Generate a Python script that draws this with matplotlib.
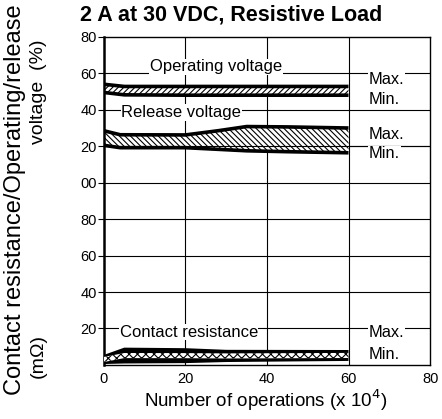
import numpy as np
import matplotlib
matplotlib.use("Agg")
from matplotlib import pyplot as plt

plt.rcParams['font.family'] = ['Liberation Sans', 'DejaVu Sans']
plt.rcParams['hatch.linewidth'] = 0.8

# operations (x 10^4)
op_x = [0, 5, 20, 40, 60]
op_max = [54, 52.8, 52.8, 52.8, 52.8]      # operating voltage (%)
op_min = [49.5, 48.2, 48, 48, 48]

rel_x = [0, 4, 20, 28, 35, 45, 60]
rel_max = [28.5, 26.3, 26.2, 28.5, 30.8, 30.6, 30]   # release voltage (%)
rel_min = [20.5, 19.2, 19.2, 18.3, 17.5, 17, 16.4]

cr_x = [0, 5, 20, 30, 60]
cr_max = [5.5, 9.5, 9.2, 8.3, 8.2]         # contact resistance (mOhm)
cr_min = [0.5, 0.8, 1.0, 1.6, 2.2]

x_ticks = [0, 20, 40, 60, 80]
y_ticks = [20, 40, 60, 80, 100, 120, 140, 160, 180]
y_labels = ['20', '40', '60', '80', '00', '20', '40', '60', '80']

V0 = 100   # voltage section sits above resistance section

fig = plt.figure(figsize=(4.42, 4.19), dpi=100)
ax = fig.add_axes([0.235, 0.129, 0.738, 0.783])
ax.set_xlim(0, 80)
ax.set_ylim(0, 180)

for gx in [20, 40, 60]:
    ax.axvline(gx, color='black', lw=0.8, zorder=1)
for gy in y_ticks[:-1]:
    ax.axhline(gy, color='black', lw=0.8, zorder=1)

# operating voltage band
ov_hi = np.array(op_max) + V0
ov_lo = np.array(op_min) + V0
ax.fill_between(op_x, ov_lo, ov_hi, facecolor='white', edgecolor='black',
                hatch='//////', lw=0, zorder=2)
ax.plot(op_x, ov_hi, color='black', lw=2.6, solid_capstyle='butt', zorder=3)
ax.plot(op_x, ov_lo, color='black', lw=2.6, solid_capstyle='butt', zorder=3)

# release voltage band
rv_hi = np.array(rel_max) + V0
rv_lo = np.array(rel_min) + V0
ax.fill_between(rel_x, rv_lo, rv_hi, facecolor='white', edgecolor='black',
                hatch='\\\\\\\\\\\\', lw=0, zorder=2)
ax.axhline(120, color='black', lw=0.8, zorder=2.5)
ax.plot(rel_x, rv_hi, color='black', lw=2.6, solid_capstyle='butt', zorder=3)
ax.plot(rel_x, rv_lo, color='black', lw=2.6, solid_capstyle='butt', zorder=3)

# contact resistance band
ax.fill_between(cr_x, cr_min, cr_max, facecolor='black', lw=0, zorder=2)
cr_mid = (np.array(cr_max) + np.array(cr_min)) / 2
ax.fill_between(cr_x, cr_mid - 1.4, cr_mid + 1.4, facecolor='white',
                edgecolor='black', hatch='xxxx', lw=0, zorder=3)

box = dict(facecolor='white', edgecolor='none', pad=0.5)
ax.text(27.5, 163.5, 'Operating voltage', fontsize=12, ha='center', va='center', bbox=box, zorder=4)
ax.text(19, 138.5, 'Release voltage', fontsize=12, ha='center', va='center', bbox=box, zorder=4)
ax.text(20.8, 18, 'Contact resistance', fontsize=12, ha='center', va='center', bbox=box, zorder=4)

for yy, s in [(156.5, 'Max.'), (145.4, 'Min.'), (126.2, 'Max.'), (115.8, 'Min.'),
              (17.6, 'Max.'), (6, 'Min.')]:
    ax.text(65, yy, s, fontsize=11.8, ha='left', va='center', bbox=box, zorder=4)

ax.set_xticks(x_ticks)
ax.set_yticks(y_ticks)
ax.set_yticklabels(y_labels)
ax.tick_params(axis='x', length=0, labelsize=10.5, pad=5)
ax.tick_params(axis='y', length=4, width=0.8, labelsize=10.5, pad=1)
for sp in ax.spines.values():
    sp.set_linewidth(1.0)
ax.spines['left'].set_linewidth(1.8)

fig.text(0.182, 0.964, '2 A at 30 VDC, Resistive Load', fontsize=15.5,
         fontweight='bold', ha='left', va='center')
fig.text(0.6, 0.045, 'Number of operations (x 10$^4$)', fontsize=13.5,
         ha='center', va='center')

fig.text(0.035, 0.523, 'Contact resistance/Operating/release', rotation=90,
         fontsize=17, ha='center', va='center')
fig.text(0.087, 0.78, 'voltage  (%)', rotation=90, fontsize=14,
         ha='center', va='center')
fig.text(0.087, 0.15, '(m\u03a9)', rotation=90, fontsize=14,
         ha='center', va='center')

fig.savefig('out.png', dpi=100)
